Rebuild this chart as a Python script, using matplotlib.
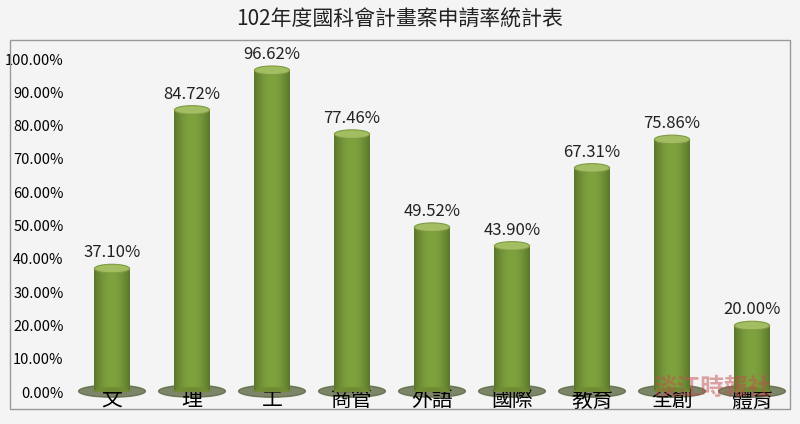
import matplotlib
matplotlib.use("Agg")
import matplotlib.pyplot as plt
from matplotlib.patches import Ellipse
import numpy as np

plt.rcParams['font.family'] = ['Noto Sans CJK TC', 'DejaVu Sans']

categories = ['文', '理', '工', '商管', '外語', '國際', '教育', '全創', '體育']
values = [37.10, 84.72, 96.62, 77.46, 49.52, 43.90, 67.31, 75.86, 20.00]

fig = plt.figure(figsize=(8, 4.24), dpi=100)
fig.patch.set_facecolor('#f4f4f4')
ax = fig.add_axes([0.09, 0.075, 0.9, 0.825])
ax.set_facecolor('none')

w = 0.44
eh = 2.6
x = np.arange(len(categories))
for xi, v in zip(x, values):
    ax.add_patch(Ellipse((xi, 0.3), w * 1.9, eh * 1.4, color='#55603a', alpha=0.75, zorder=1, clip_on=False))
    grad = np.linspace(0, 1, 64)
    shade = 0.75 + 0.35 * np.sin(np.pi * (grad * 0.9 + 0.05))
    base = np.array([0.45, 0.58, 0.22])
    img = np.clip(base[None, None, :] * shade[None, :, None], 0, 1)
    ax.imshow(img, extent=[xi - w / 2, xi + w / 2, 0, v], aspect='auto', zorder=2)
    ax.add_patch(Ellipse((xi, 0), w, eh, color='#6f8a33', zorder=2))
    ax.add_patch(Ellipse((xi, v), w, eh, facecolor='#a3bd63', edgecolor='#7f9a40', lw=0.8, zorder=3))
    ax.text(xi, v + 2.2, f'{v:.2f}%', ha='center', va='bottom', fontsize=12, color='#222222', zorder=4)

ax.set_xlim(-0.5, len(categories) - 0.5)
ax.set_ylim(0, 105)
ax.set_yticks(np.arange(0, 101, 10))
ax.set_yticklabels([f'{t:.2f}%' for t in range(0, 101, 10)], fontsize=10.5)
ax.set_xticks(x)
ax.set_xticklabels(categories, fontsize=15)
ax.tick_params(axis='x', length=0, pad=-2)
ax.tick_params(axis='y', length=0, pad=6)
for s in ax.spines.values():
    s.set_visible(False)

fig.text(0.5, 0.955, '102年度國科會計畫案申請率統計表', ha='center', va='center', fontsize=15, color='#222222')
fig.text(0.89, 0.085, '淡江時報社', ha='center', va='center', fontsize=17, color='#c0504d', alpha=0.5, fontweight='bold')

border = plt.Rectangle((0.012, 0.035), 0.976, 0.87, transform=fig.transFigure, fill=False, ec='#999999', lw=1)
fig.add_artist(border)

fig.savefig('out.png', dpi=100)
